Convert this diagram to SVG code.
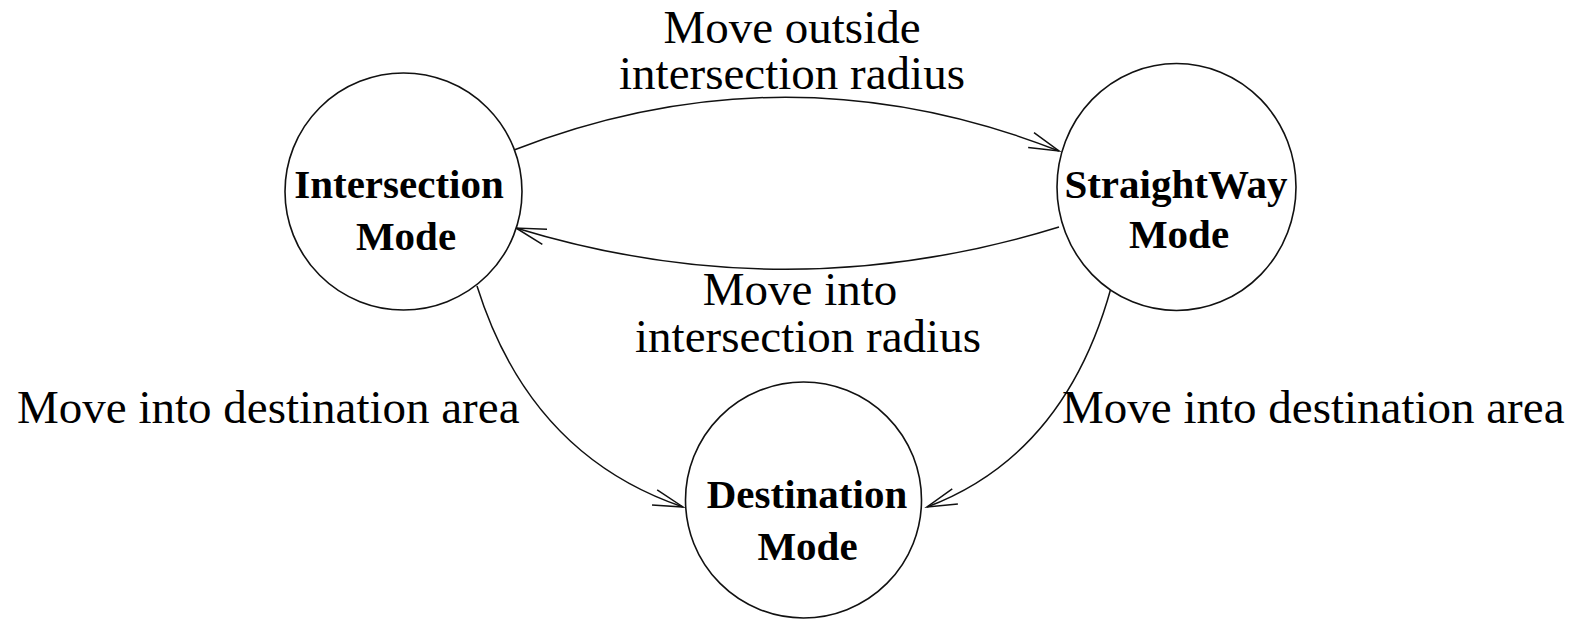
<svg xmlns="http://www.w3.org/2000/svg" width="1593" height="620" viewBox="0 0 1593 620">
<style>
.node{fill:#fff;stroke:#111;stroke-width:1.6}
.nt{font-family:"Liberation Serif","Times New Roman",serif;font-weight:bold;font-size:41px;fill:#000;text-anchor:middle}
.lbl{font-family:"Liberation Serif","Times New Roman",serif;font-size:47px;fill:#000}
.edge{fill:none;stroke:#111;stroke-width:1.5}
</style>
<defs>
<marker id="arr" markerUnits="userSpaceOnUse" markerWidth="40" markerHeight="30" viewBox="-34 -15 40 30" refX="0" refY="0" orient="auto">
<path d="M-30,-8 L0,0 L-30,8" fill="none" stroke="#111" stroke-width="1.5"/>
</marker>
</defs>
<rect width="1593" height="620" fill="#fff"/>
<g id="connectors">
<path class="edge" d="M514,150 Q787,44 1059,151" marker-end="url(#arr)"/>
<path class="edge" d="M1059,227 Q787,311 516,228" marker-end="url(#arr)"/>
<path class="edge" d="M477,286 Q530,455 683,507" marker-end="url(#arr)"/>
<path class="edge" d="M1111,288 Q1065,455 927,507" marker-end="url(#arr)"/>
</g>
<g id="labels">
<text class="lbl" x="792" y="43" text-anchor="middle">Move outside</text>
<text class="lbl" x="792" y="89" text-anchor="middle">intersection radius</text>
<text class="lbl" x="800" y="305" text-anchor="middle">Move into</text>
<text class="lbl" x="808" y="352" text-anchor="middle">intersection radius</text>
<text class="lbl" x="17" y="423">Move into destination area</text>
<text class="lbl" x="1062" y="423">Move into destination area</text>
</g>
<g id="intersection">
<circle class="node" cx="403.5" cy="191.5" r="118.5"/>
<text class="nt" x="399" y="198">Intersection</text>
<text class="nt" x="406" y="250">Mode</text>
</g>
<g id="straightway">
<ellipse class="node" cx="1176.5" cy="187" rx="119.5" ry="123.5"/>
<text class="nt" x="1176" y="198">StraightWay</text>
<text class="nt" x="1179" y="248">Mode</text>
</g>
<g id="destination">
<circle class="node" cx="803.5" cy="500" r="118"/>
<text class="nt" x="807" y="508">Destination</text>
<text class="nt" x="807.5" y="560">Mode</text>
</g>
</svg>
